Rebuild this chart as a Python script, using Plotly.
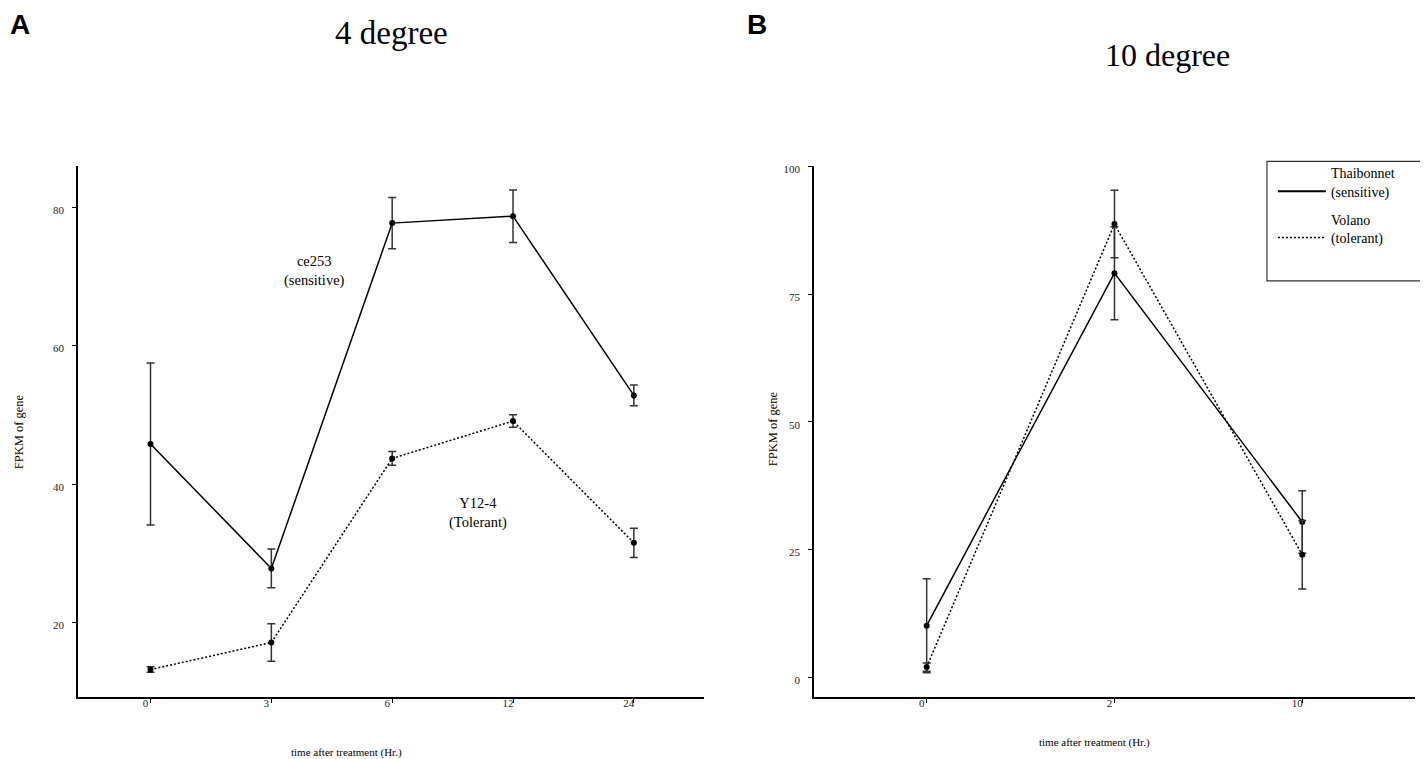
import plotly.graph_objects as go

# panel A - 4 degree
hours_a = ["0", "3", "6", "12", "24"]
ce253_fpkm = [45.8, 27.8, 77.7, 78.7, 52.8]
ce253_err = [11.7, 2.8, 3.7, 3.8, 1.5]
y124_fpkm = [13.2, 17.1, 43.7, 49.1, 31.5]
y124_err = [0.4, 2.7, 1.0, 0.9, 2.1]

# panel B - 10 degree
hours_b = ["0", "2", "10"]
thai_fpkm = [10.1, 79.1, 30.4]
thai_err = [9.2, 9.1, 6.1]
volano_fpkm = [2.0, 88.7, 24.0]
volano_err = [0.8, 6.6, 6.7]

SERIF = "Liberation Serif, Times New Roman, serif"
NARROW = "Liberation Sans Narrow, Arial Narrow, Liberation Sans, Arial"
DOTS = "2px,2px"


def addSeries(fig, x, y, err, dash, xaxis, yaxis):
    fig.add_trace(go.Scatter(x=x, y=y, mode="lines+markers", xaxis=xaxis, yaxis=yaxis,
                             line=dict(color="black", width=1.5, dash=dash),
                             marker=dict(color="black", size=6),
                             error_y=dict(type="data", array=err, color="#333333", thickness=1.5, width=4),
                             showlegend=False, hoverinfo="x+y"))


fig = go.Figure()
addSeries(fig, hours_a, ce253_fpkm, ce253_err, "solid", "x", "y")
addSeries(fig, hours_a, y124_fpkm, y124_err, DOTS, "x", "y")
addSeries(fig, hours_b, thai_fpkm, thai_err, "solid", "x2", "y2")
addSeries(fig, hours_b, volano_fpkm, volano_err, DOTS, "x2", "y2")

# legend entries for panel B (line only)
fig.add_trace(go.Scatter(x=[None], y=[None], mode="lines", name="Thaibonnet<br>(sensitive)", legendgroup="s",
                         line=dict(color="black", width=2), xaxis="x2", yaxis="y2"))
fig.add_trace(go.Scatter(x=[None], y=[None], mode="lines", name="Volano<br>(tolerant)", legendgroup="t",
                         line=dict(color="black", width=1.5, dash=DOTS), xaxis="x2", yaxis="y2"))

axis_style = dict(showline=True, linecolor="black", linewidth=1.5, ticks="outside", ticklen=4,
                  tickcolor="black", showgrid=False, zeroline=False,
                  tickfont=dict(family=SERIF, size=11, color="#222"))

# the page body adds 8px around the plot, so the figure is 8px smaller on each axis
fig.update_layout(
    width=1420, height=751,
    margin=dict(l=0, r=0, t=0, b=0),
    paper_bgcolor="white", plot_bgcolor="white",
    font=dict(family=SERIF, color="black"),
    xaxis=dict(axis_style, domain=[0.0493, 0.4901], type="category", range=[-0.6, 4.58],
               anchor="y", ticklabelstandoff=-9, ticklabelshift=-5),
    yaxis=dict(axis_style, domain=[0.0826, 0.7923], range=[9.2, 85.9], tickvals=[20, 40, 60, 80],
               anchor="x", ticklabelstandoff=6, ticklabelshift=3),
    xaxis2=dict(axis_style, domain=[0.5676, 0.9908], type="category", range=[-0.6, 2.6],
                anchor="y2", ticklabelstandoff=-9, ticklabelshift=-5),
    yaxis2=dict(axis_style, domain=[0.0826, 0.7923], range=[-3.9, 100], tickvals=[0, 25, 50, 75, 100],
                anchor="x2", ticklabelstandoff=6, ticklabelshift=3),
    showlegend=True,
    legend=dict(x=0.8908, y=0.8043, xanchor="left", yanchor="top", bgcolor="rgba(0,0,0,0)",
                borderwidth=0, font=dict(family=SERIF, size=14), itemwidth=48,
                valign="bottom", tracegroupgap=7),
)

# legend frame
fig.add_shape(type="rect", xref="paper", yref="paper", x0=0.8866, x1=0.9993, y0=0.6391, y1=0.7989,
              line=dict(color="#333", width=1.2))

notes = [
    dict(text="A", x=0.0, y=0.9814, xanchor="left",
         font=dict(family=NARROW, size=28, color="black", weight="bold")),
    dict(text="B", x=0.519, y=0.9814, xanchor="left",
         font=dict(family=NARROW, size=28, color="black", weight="bold")),
    dict(text="4 degree", x=0.2704, y=0.9707, font=dict(family=SERIF, size=33)),
    dict(text="10 degree", x=0.8169, y=0.9414, font=dict(family=SERIF, size=32)),
    dict(text="FPKM of gene", x=0.0077, y=0.4381, textangle=-90, font=dict(family=SERIF, size=12.5)),
    dict(text="FPKM of gene", x=0.5387, y=0.4421, textangle=-90, font=dict(family=SERIF, size=12.5)),
    dict(text="time after treatment (Hr.)", x=0.2387, y=0.0093, font=dict(family=SERIF, size=11)),
    dict(text="time after treatment (Hr.)", x=0.7648, y=0.0226, font=dict(family=SERIF, size=11)),
]
for n in notes:
    fig.add_annotation(xref="paper", yref="paper", showarrow=False, yanchor="middle",
                       **({"xanchor": "center"} | n))

fig.add_annotation(xref="x domain", yref="y domain", x=0.326, y=0.840, showarrow=False,
                   text="ce253<br>(sensitive)", font=dict(family=SERIF, size=14.5))
fig.add_annotation(xref="x domain", yref="y domain", x=0.639, y=0.347, showarrow=False,
                   text="Y12-4<br>(Tolerant)", font=dict(family=SERIF, size=14.5))

fig.write_html("out.html")
